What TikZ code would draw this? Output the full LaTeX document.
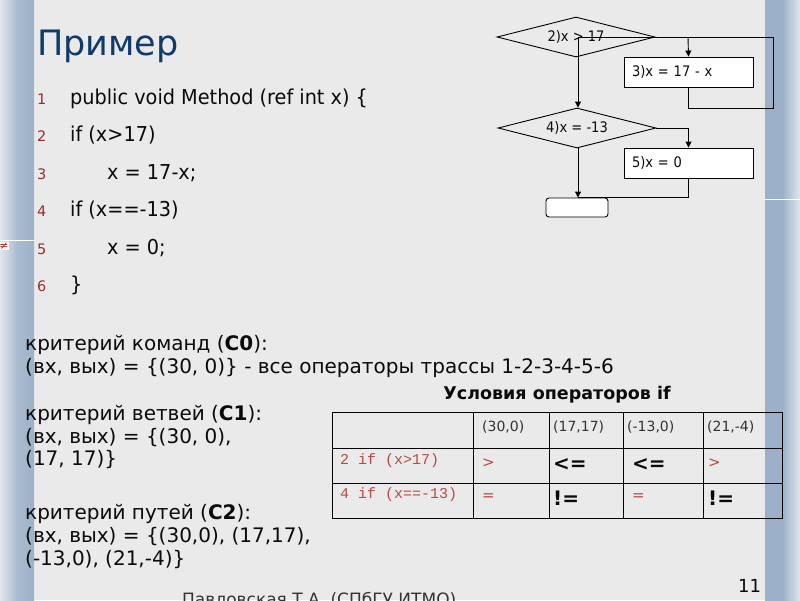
\documentclass[tikz,border=0pt]{standalone}
\usepackage{fontspec}
\setmainfont{DejaVu Sans}
\newfontfamily\codefont[FakeStretch=0.94]{DejaVu Sans}
\newfontfamily\fcfont[FakeStretch=0.9]{DejaVu Sans}
\newfontfamily\tabmono{Liberation Mono}
\usetikzlibrary{arrows.meta,shapes.geometric}
\definecolor{bgcol}{HTML}{EAEAEA}
\definecolor{stripdark}{HTML}{9CB1C9}
\definecolor{striplight}{HTML}{E2E6EC}
\definecolor{titlecol}{HTML}{0F3B6C}
\definecolor{numred}{HTML}{9B2C2C}
\definecolor{tabred}{HTML}{B84A45}
\definecolor{textdark}{HTML}{0A0A0A}
\definecolor{graytxt}{HTML}{333333}
\begin{document}
\begin{tikzpicture}[x=1pt,y=-1pt,
  every node/.style={inner sep=0pt},
  codetxt/.style={anchor=base west, font=\codefont\fontsize{20.5}{24}\selectfont, text=textdark},
  lnum/.style={anchor=base west, font=\fontsize{14.5}{16}\selectfont, text=numred},
  crit/.style={anchor=base west, font=\fontsize{20}{24}\selectfont, text=textdark},
  fcbox/.style={draw, fill=white, line width=0.9pt, minimum height=30pt, text width=113pt, align=left, inner xsep=8pt, font=\fcfont\fontsize{14.5}{16}\selectfont, text=textdark},
  fcdia/.style={draw, diamond, shape aspect=4, minimum width=158pt, minimum height=40pt, line width=0.9pt, font=\fcfont\fontsize{14.5}{16}\selectfont, text=textdark},
  fcend/.style={draw, fill=white, rounded corners=3pt, minimum width=62pt, minimum height=19pt, line width=0.9pt},
  link/.style={line width=0.9pt},
  flow/.style={line width=0.9pt, -{Triangle[length=6pt,width=6pt]}},
  tabhead/.style={anchor=west, font=\fontsize{14}{16}\selectfont, text=graytxt},
  tabcode/.style={anchor=west, font=\tabmono\fontsize{15}{17}\selectfont, text=tabred},
  tabop/.style={anchor=west, font=\fontsize{15}{17}\selectfont, text=tabred},
  tabbold/.style={anchor=west, font=\bfseries\fontsize{20}{22}\selectfont, text=textdark},
  grid/.style={line width=0.9pt, draw=black}
]
\useasboundingbox (0,0) rectangle (800,600);
\clip (0,0) rectangle (800,600);
% background and side strips
\fill[bgcol] (0,0) rectangle (800,600);
\shade[left color=striplight, right color=stripdark, middle color=stripdark!80!striplight] (0,0) rectangle (34,600);
\draw[white, line width=1pt] (0,240) -- (34,240);
\node[fill=white, inner sep=0.8pt, text=numred, font=\fontsize{11}{11}\selectfont] (neq) at (4,246) {≠};
\shade[left color=stripdark, right color=striplight, middle color=stripdark] (765,0) rectangle (800,600);
\draw[white, line width=1pt] (765,199) -- (800,199);

% title
\node[anchor=base west, text=titlecol, font=\fontsize{35}{40}\selectfont] (title) at (37,55) {Пример};

% code lines
\node[lnum] (n1) at (37,104) {1};
\node[codetxt] (c1) at (70,104) {public void Method (ref int x) \{};
\node[lnum] (n2) at (37,141.5) {2};
\node[codetxt] (c2) at (70,141.5) {if (x>17)};
\node[lnum] (n3) at (37,179) {3};
\node[codetxt] (c3) at (107,179) {x = 17-x;};
\node[lnum] (n4) at (37,216.5) {4};
\node[codetxt] (c4) at (70,216.5) {if (x==-13)};
\node[lnum] (n5) at (37,254) {5};
\node[codetxt] (c5) at (107,254) {x = 0;};
\node[lnum] (n6) at (37,291.5) {6};
\node[codetxt] (c6) at (70,291.5) {\}};

% flowchart
\node[fcdia] (d1) at (576,37) {2)x > 17};
\node[fcbox] (b3) at (688.5,72) {3)x = 17 - x};
\node[fcdia] (d2) at (577,128) {4)x = -13};
\node[fcbox] (b5) at (688.5,163) {5)x = 0};
\node[fcend] (e) at (577,207.5) {};
\coordinate (j1) at (688,37);
\coordinate (r1) at (773,37);
\coordinate (r2) at (773,108);
\coordinate (s1) at (578,37);
\draw[link] (s1) -- (r1);
\draw[flow] (j1) -- (b3.north);
\draw[link] (b3.south) |- (r2) -- (r1);
\draw[flow] (s1) -- (s1 |- d2.north);
\draw[flow] (d2.east) -| (b5.north);
\draw[flow] (d2.south -| s1) -- (s1 |- e.north);
\draw[link] (b5.south) |- (s1 |- e.north);

% criteria text
\node[crit] (k1) at (25,350) {критерий команд (\textbf{C0}):};
\node[crit] (k2) at (25,373) {(вх, вых) = \{(30, 0)\} - все операторы трассы 1-2-3-4-5-6};
\node[crit] (k3) at (25,420) {критерий ветвей (\textbf{C1}):};
\node[crit] (k4) at (25,443) {(вх, вых) = \{(30, 0),};
\node[crit] (k5) at (25,465) {(17, 17)\}};
\node[crit] (k6) at (25,519) {критерий путей (\textbf{C2}):};
\node[crit] (k7) at (25,542) {(вх, вых) = \{(30,0), (17,17),};
\node[crit] (k8) at (25,565) {(-13,0), (21,-4)\}};

% table
\node[font=\bfseries\fontsize{17.5}{19}\selectfont, text=textdark] (tt) at (557,395) {Условия операторов if};
\draw[grid] (332,412) rectangle (782,518);
\draw[grid] (332,448) -- (782,448);
\draw[grid] (332,483) -- (782,483);
\foreach \cx in {473,549,623,703} {\draw[grid] (\cx,412) -- (\cx,518);}
\node[tabhead] (h1) at (482,427) {(30,0)};
\node[tabhead] (h2) at (553,427) {(17,17)};
\node[tabhead] (h3) at (627,427) {(-13,0)};
\node[tabhead] (h4) at (707,427) {(21,-4)};
\node[tabcode] (r1l) at (340,461) {2 if (x>17)};
\node[tabop] (r1a) at (482,463) {>};
\node[tabbold] (r1b) at (553,465) {<=};
\node[tabbold] (r1c) at (632,465) {<=};
\node[tabop] (r1d) at (708,463) {>};
\node[tabcode] (r2l) at (340,495) {4 if (x==-13)};
\node[tabop] (r2a) at (482,497) {=};
\node[tabbold] (r2b) at (553,498) {!=};
\node[tabop] (r2c) at (632,497) {=};
\node[tabbold] (r2d) at (708,498) {!=};

% footer
\node[anchor=base west, font=\fontsize{17}{20}\selectfont, text=graytxt] (foot) at (182,605) {Павловская Т.А. (СПбГУ ИТМО)};
\node[anchor=base west, font=\fontsize{18}{20}\selectfont, text=textdark] (pg) at (738,592) {11};
\end{tikzpicture}
\end{document}
